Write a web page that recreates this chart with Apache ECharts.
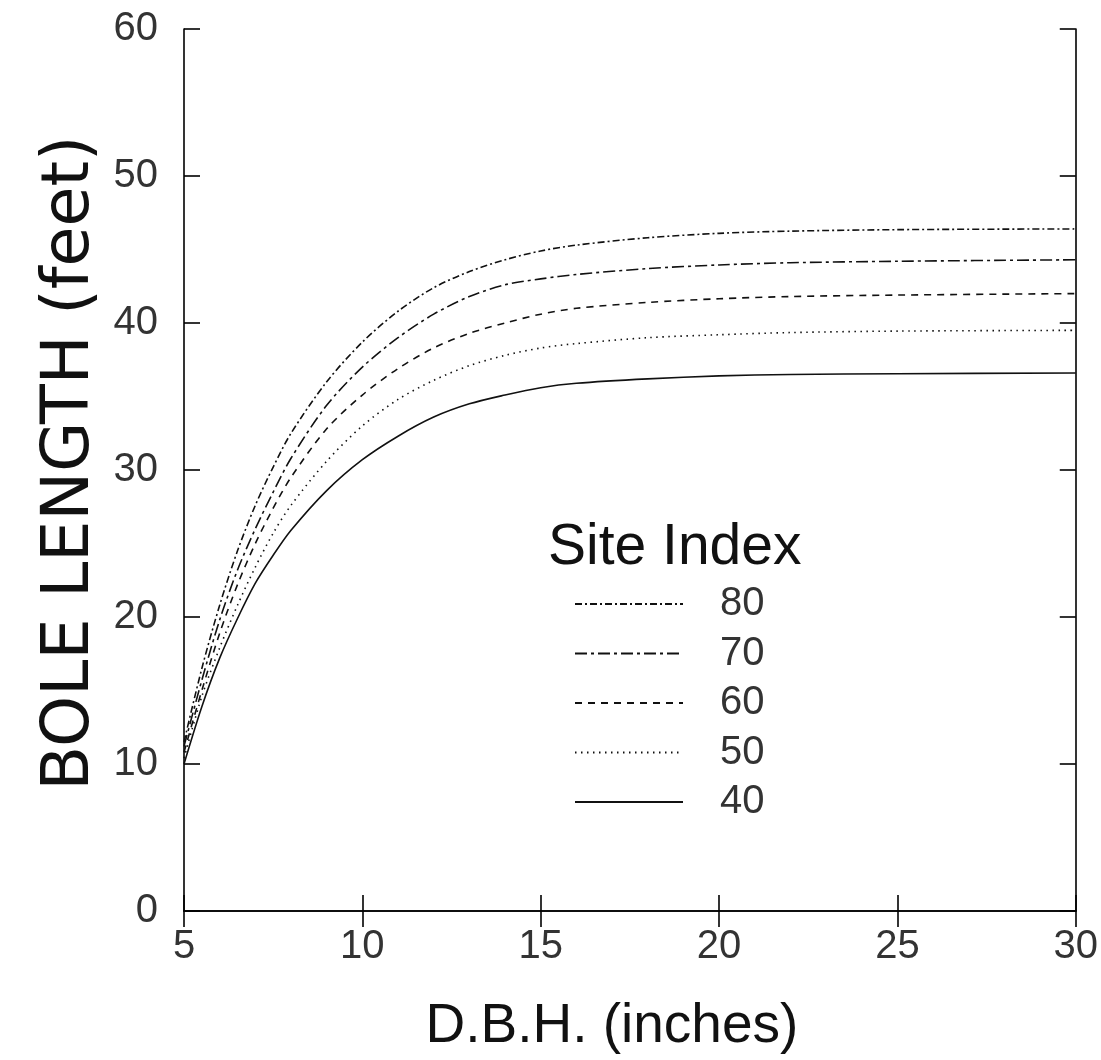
<!DOCTYPE html>
<html><head><meta charset="utf-8">
<script src="https://cdn.jsdelivr.net/npm/echarts@6/dist/echarts.min.js"></script>
<style>html,body{margin:0;background:#fff}#c{width:1101px;height:1060px}</style>
</head><body><div id="c"></div>
<script>
const dbh  = [5, 5.5, 6, 6.5, 7, 7.5, 8, 9, 10, 11, 12, 13, 14, 15, 16, 18, 20, 22, 25, 30];
const si80 = [11.5, 16.5, 20.8, 24.5, 27.6, 30.2, 32.5, 36.0, 38.7, 40.8, 42.4, 43.5, 44.3, 44.9, 45.3, 45.8, 46.1, 46.25, 46.35, 46.4];
const si70 = [11.2, 15.7, 19.8, 23.2, 26.0, 28.5, 30.8, 34.4, 37.0, 39.0, 40.6, 41.8, 42.6, 43.0, 43.3, 43.7, 43.95, 44.1, 44.2, 44.3];
const si60 = [10.8, 15.0, 18.9, 22.2, 25.0, 27.4, 29.5, 32.8, 35.1, 36.9, 38.3, 39.3, 40.0, 40.6, 41.0, 41.4, 41.65, 41.8, 41.9, 42.0];
const si50 = [10.4, 14.6, 17.9, 20.8, 23.4, 25.7, 27.6, 30.6, 33.0, 34.8, 36.1, 37.1, 37.8, 38.3, 38.6, 39.0, 39.2, 39.35, 39.45, 39.5];
const si40 = [10.0, 13.9, 17.2, 19.9, 22.3, 24.2, 25.9, 28.6, 30.7, 32.3, 33.6, 34.5, 35.1, 35.6, 35.9, 36.2, 36.4, 36.5, 36.55, 36.6];
const seriesNames = ['80', '70', '60', '50', '40'];
const seriesData = [si80, si70, si60, si50, si40];
const dashes = [[7, 3, 2, 3], [12, 4, 3, 4], [7, 6], [1.5, 4.5], 'solid'];

const FONT = 'Liberation Sans';
const chart = echarts.init(document.getElementById('c'));
const axisLine = {show: true, lineStyle: {color: '#000', width: 1.6}};
const tick = {show: true, inside: true, length: 16, lineStyle: {color: '#000', width: 1.6}};
chart.setOption({
  animation: false,
  backgroundColor: '#fff',
  title: {
    text: 'Site Index', left: 543, top: 515,
    textStyle: {fontFamily: FONT, fontSize: 57, fontWeight: 'normal', color: '#111'}
  },
  legend: {
    orient: 'vertical', left: 569, top: 579,
    itemWidth: 108, itemHeight: 40, itemGap: 9.5,
    data: seriesNames,
    itemStyle: {opacity: 0},
    textStyle: {fontFamily: FONT, fontSize: 40, color: '#333', padding: [0, 0, 0, 32]}
  },
  grid: {left: 184, right: 25, top: 29, bottom: 149},
  xAxis: [{
    type: 'value', min: 5, max: 30, interval: 5,
    axisLine, axisTick: tick, splitLine: {show: false},
    axisLabel: {fontFamily: FONT, fontSize: 40, color: '#333', margin: 16},
    name: 'D.B.H. (inches)', nameLocation: 'middle', nameGap: 88, nameMoveOverlap: false,
    nameTextStyle: {fontFamily: FONT, fontSize: 55, color: '#111', padding: [0, 36, 0, 0]}
  }, {
    type: 'value', min: 5, max: 30, interval: 5, position: 'top',
    axisLine, axisTick: tick, splitLine: {show: false}, axisLabel: {show: false}
  }],
  yAxis: [{
    type: 'value', min: 0, max: 60, interval: 10,
    axisLine, axisTick: tick, splitLine: {show: false},
    axisLabel: {fontFamily: FONT, fontSize: 40, color: '#333', margin: 26},
    name: 'BOLE LENGTH (feet)', nameLocation: 'middle', nameGap: 80, nameRotate: 90, nameMoveOverlap: false,
    nameTextStyle: {fontFamily: 'DejaVu Sans', fontSize: 65, color: '#111', padding: [0, 0, 0, 14]}
  }, {
    type: 'value', min: 0, max: 60, interval: 10, position: 'right',
    axisLine, axisTick: tick, splitLine: {show: false}, axisLabel: {show: false}
  }],
  series: seriesNames.map((n, i) => ({
    name: n, type: 'line', smooth: 0.3, showSymbol: false, symbol: 'none',
    data: dbh.map((x, j) => [x, seriesData[i][j]]),
    lineStyle: {color: '#111', width: 1.6, type: dashes[i]},
    itemStyle: {color: '#111'}
  }))
});
</script></body></html>
